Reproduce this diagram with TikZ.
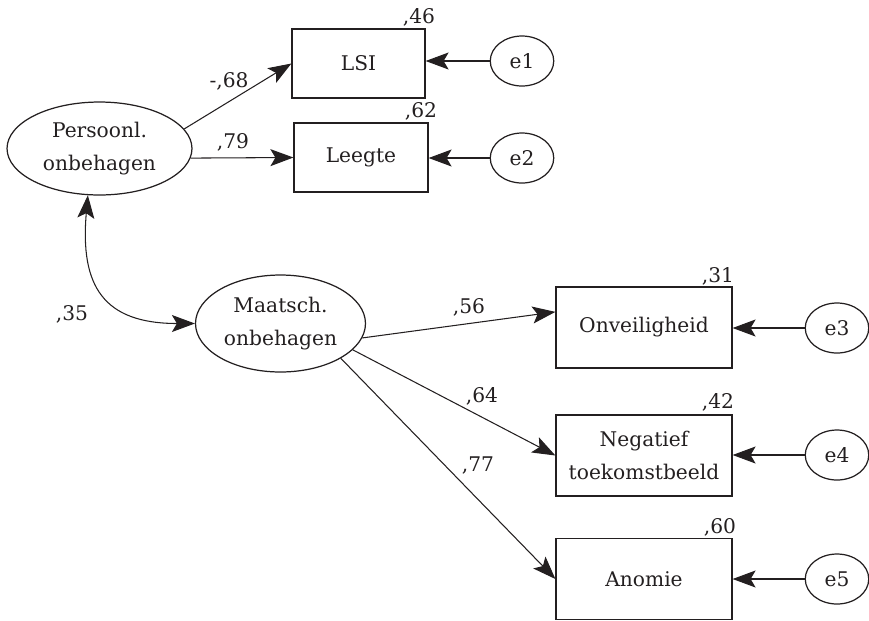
\documentclass[tikz,border=0pt]{standalone}
\usepackage{fontspec}
\setmainfont{DejaVu Serif}
\usetikzlibrary{shapes.geometric,arrows.meta}
\definecolor{ink}{HTML}{231F20}
\tikzset{
  tip/.style={-{Stealth[length=4.6mm,width=3.4mm,inset=1mm]}},
  twotip/.style={{Stealth[length=4.6mm,width=3.4mm,inset=1mm]}-{Stealth[length=4.6mm,width=3.4mm,inset=1mm]}}
}
\begin{document}
\begin{tikzpicture}[x=0.02cm, y=-0.02cm, font=\fontsize{11.5}{19}\selectfont, color=ink]
%% positions are given in pixels of the original figure (y grows downwards)
%% the arrow heads can be resized in tip and twotip (preamble)
\tikzstyle{arc}=[tip,line width=0.6pt]
\tikzstyle{covArc}=[twotip,line width=0.6pt]
\tikzstyle{latent}=[ellipse,draw,line width=0.7pt,inner sep=0pt,align=center]
\tikzstyle{indicator}=[rectangle,draw,line width=0.7pt,inner sep=0pt,minimum width=3.52cm,minimum height=1.62cm,align=center]
\tikzstyle{residual}=[ellipse,draw,line width=0.7pt,inner sep=0pt,minimum width=1.27cm,minimum height=1cm]
\tikzstyle{weight}=[anchor=base,inner sep=0pt]
\useasboundingbox (0,0) rectangle (869,620);
%% latent factors %%
\node[latent,minimum width=3.7cm,minimum height=1.86cm] at (99.5,148.5) (Pers) {Persoonl.\\onbehagen};
\node[latent,minimum width=3.4cm,minimum height=1.94cm] at (280.5,323.5) (Maat) {Maatsch.\\onbehagen};
%% indicators of Pers
\node[indicator,minimum width=2.66cm,minimum height=1.38cm] at (358.5,63.5) (LSI) {LSI};
\node[indicator,minimum width=2.68cm,minimum height=1.38cm] at (361,157.5) (Leegte) {Leegte};
%% indicators of Maat
\node[indicator] at (644,327.5) (Onveilig) {Onveiligheid};
\node[indicator] at (644,455.5) (Negatief) {Negatief\\toekomstbeeld};
\node[indicator] at (644,579) (Anomie) {Anomie};
%% error terms
\node[residual] at (522,61) (e1) {e1};
\node[residual] at (522,158) (e2) {e2};
\node[residual] at (837,328) (e3) {e3};
\node[residual] at (837,455) (e4) {e4};
\node[residual] at (837,579) (e5) {e5};
%% loadings
\draw[arc] (Pers.13) -- (LSI.west);
\draw[arc] (Pers.-6) -- (Leegte.west);
\draw[arc] (Maat.-10) -- (Onveilig.170);
\draw[arc] (Maat.-20) -- (Negatief.west);
\draw[arc] (Maat.-30) -- (Anomie.west);
%% correlation between the factors
\draw[covArc] (Pers.256) to[out=265,in=180,looseness=1.4] (Maat.west);
%% errors into indicators
\draw[arc] (e1.west) -- (LSI.east |- e1.west);
\draw[arc] (e2.west) -- (Leegte.east |- e2.west);
\draw[arc] (e3.west) -- (Onveilig.east |- e3.west);
\draw[arc] (e4.west) -- (Negatief.east |- e4.west);
\draw[arc] (e5.west) -- (Anomie.east |- e5.west);
%% path weights
\draw (229,87) node[weight] (wLSI) {-,68};
\draw (233,148) node[weight] (wLeegte) {,79};
\draw (72,320) node[weight] (wCov) {,35};
\draw (469,313) node[weight] (wOnveilig) {,56};
\draw (482,402) node[weight] (wNegatief) {,64};
\draw (478,471) node[weight] (wAnomie) {,77};
%% squared multiple correlations
\draw (419,23) node[weight] (rLSI) {,46};
\draw (421,117) node[weight] (rLeegte) {,62};
\draw (718,282) node[weight] (rOnveilig) {,31};
\draw (718,408) node[weight] (rNegatief) {,42};
\draw (720,533) node[weight] (rAnomie) {,60};
\end{tikzpicture}
\end{document}
